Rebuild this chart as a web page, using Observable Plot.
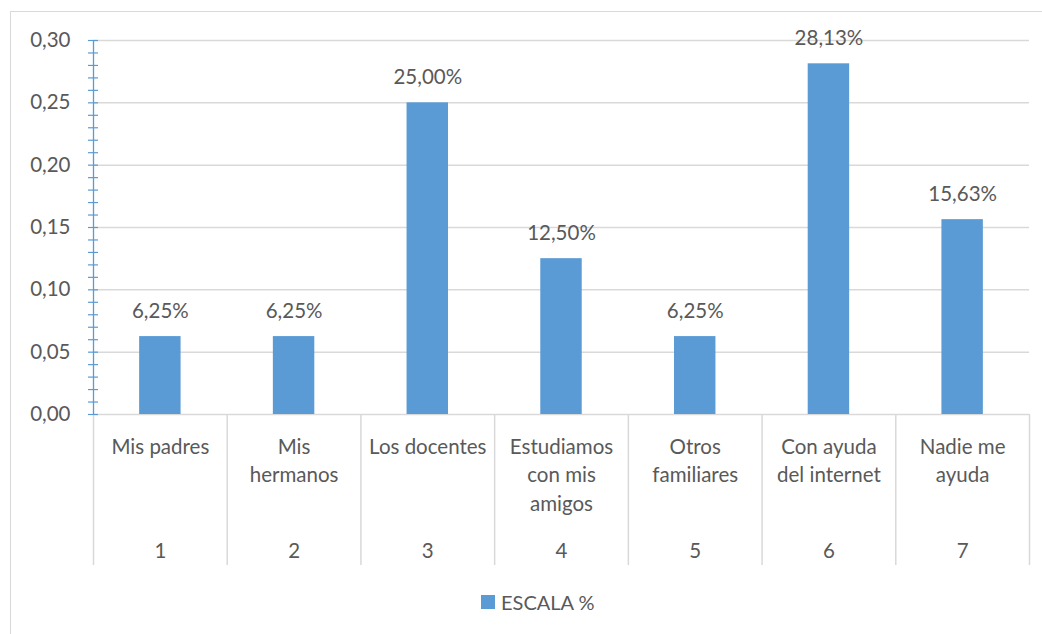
<!DOCTYPE html>
<html>
<head>
<meta charset="utf-8">
<script src="https://cdn.jsdelivr.net/npm/d3@7"></script>
<script src="https://cdn.jsdelivr.net/npm/@observablehq/plot@0.6"></script>
<style>
  html, body { margin: 0; padding: 0; background: #fff; }
  body { width: 1042px; height: 634px; overflow: hidden; position: relative; font-family: Lato, "Open Sans", sans-serif; }
  #frame { position: absolute; left: 10px; top: 11px; width: 1100px; height: 700px; border-top: 1.5px solid #d9d9d9; border-left: 1.5px solid #d9d9d9; }
  #chart { position: absolute; left: 0; top: 0; }
  #legend { position: absolute; left: 481px; top: 590px; display: flex; align-items: center; color: #595959; font-size: 20px; }
  #legend .sw { width: 14px; height: 14px; background: #5b9bd5; margin-right: 6px; }
</style>
</head>
<body>
<div id="frame"></div>
<div id="chart"></div>
<div id="legend"><div class="sw"></div><span id="legend-label"></span></div>
<script>
const ids = ["1", "2", "3", "4", "5", "6", "7"];
const names = ["Mis padres", "Mis\nhermanos", "Los docentes", "Estudiamos\ncon mis\namigos", "Otros\nfamiliares", "Con ayuda\ndel internet", "Nadie me\nayuda"];
const values = [0.0625, 0.0625, 0.25, 0.125, 0.0625, 0.2813, 0.1563];
const valueLabels = ["6,25%", "6,25%", "25,00%", "12,50%", "6,25%", "28,13%", "15,63%"];
const majorTicks = [0, 0.05, 0.10, 0.15, 0.20, 0.25, 0.30];
const minorTicks = d3.range(0, 31).map(i => i / 100);
const seriesName = "ESCALA %";

document.getElementById("legend-label").textContent = seriesName;

const data = ids.map((id, i) => ({id, name: names[i], value: values[i], label: valueLabels[i]}));

const W = 1042, H = 580, mL = 93, mR = 13, mT = 40, mB = 166;
const step = (W - mL - mR) / ids.length;
const blue = "#5b9bd5", grid = "#d9d9d9", txt = "#595959";
const fs = 20.5;

const chart = Plot.plot({
  width: W,
  height: H,
  marginLeft: mL,
  marginRight: mR,
  marginTop: mT,
  marginBottom: mB,
  style: {fontFamily: "Lato, 'Open Sans', sans-serif", fontSize: fs + "px", color: txt, background: "transparent", overflow: "visible"},
  x: {type: "band", domain: ids, paddingInner: 0.69, paddingOuter: 0.345, round: false, axis: null, label: null},
  y: {domain: [0, 0.30], axis: null, label: null},
  marks: [
    Plot.ruleY(majorTicks, {stroke: grid, strokeWidth: 1.5}),
    Plot.barY(data, {x: "id", y: "value", fill: blue}),
    Plot.text(data, {x: "id", y: "value", text: "label", lineAnchor: "bottom", dy: -18.5, fill: txt, fontSize: fs}),
    // category separators
    Plot.ruleX(ids, {x: d => d, dx: -step / 2, stroke: grid, strokeWidth: 1.5, insetTop: 374, insetBottom: -151}),
    Plot.ruleX([ids[ids.length - 1]], {x: d => d, dx: step / 2, stroke: grid, strokeWidth: 1.5, insetTop: 374, insetBottom: -151}),
    // category labels
    Plot.text(data, {x: "id", text: "name", frameAnchor: "bottom", lineAnchor: "top", dy: 19, lineHeight: 1.39, fill: txt, fontSize: fs}),
    Plot.text(data, {x: "id", text: "id", frameAnchor: "bottom", lineAnchor: "middle", dy: 137, fill: txt, fontSize: fs}),
    // y axis
    Plot.ruleX([ids[0]], {x: d => d, dx: -step / 2, stroke: blue, strokeWidth: 1.3}),
    Plot.axisY(minorTicks, {tickSize: 10, dx: 5, text: null, label: null, stroke: blue, strokeWidth: 1.2}),
    Plot.axisY(majorTicks, {tickSize: 0, tickPadding: 23, label: null, tickFormat: d => d.toFixed(2).replace(".", ","), fill: txt, fontSize: fs})
  ]
});
document.getElementById("chart").appendChild(chart);
</script>
</body>
</html>
